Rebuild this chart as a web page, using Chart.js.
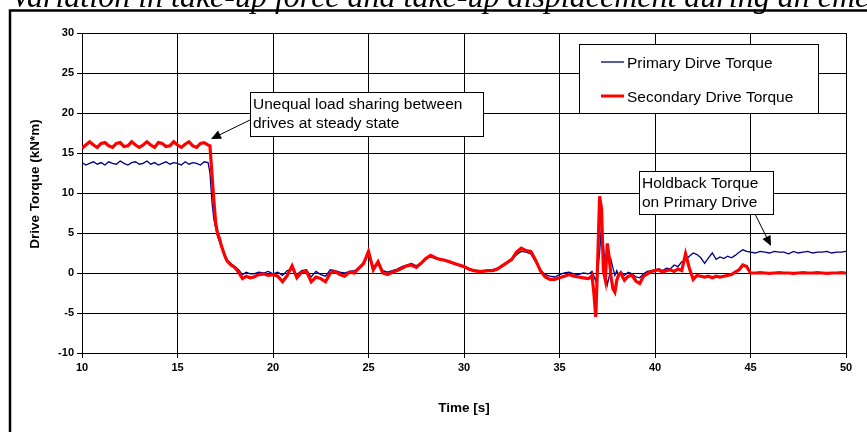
<!DOCTYPE html>
<html>
<head>
<meta charset="utf-8">
<script src="https://cdn.jsdelivr.net/npm/chart.js@4.4.0/dist/chart.umd.min.js"></script>
<style>
html, body { margin: 0; padding: 0; background: #fff; }
#wrap { position: relative; width: 867px; height: 432px; overflow: hidden; }
</style>
</head>
<body>
<div id="wrap"><canvas id="torqueChart"></canvas></div>
<script>
// time base [s]
const timeSec = [
    10.0, 10.2, 10.4, 10.6, 10.8, 11.0, 11.2, 11.4, 11.6, 11.8, 12.0, 12.2, 12.4, 12.6, 12.8, 13.0, 13.2,
    13.4, 13.6, 13.8, 14.0, 14.2, 14.4, 14.6, 14.8, 15.0, 15.2, 15.4, 15.6, 15.8, 16.0, 16.2, 16.4, 16.6,
    16.7, 16.8, 16.9, 17.0, 17.1, 17.2, 17.3, 17.4, 17.5, 17.6, 17.8, 18.0, 18.2, 18.4, 18.6, 18.8,
    19, 19.25, 19.5, 19.75, 20, 20.25, 20.5, 20.75, 21, 21.25, 21.5, 21.75, 22, 22.25, 22.5, 22.75,
    23, 23.25, 23.5, 23.75, 24, 24.25, 24.5, 24.75, 25, 25.25, 25.5, 25.75, 26, 26.25, 26.5, 26.75,
    27, 27.25, 27.5, 27.75, 28, 28.25, 28.5, 28.75, 29, 29.25, 29.5, 29.75, 30, 30.25, 30.5, 30.75,
    31, 31.25, 31.5, 31.75, 32, 32.25, 32.5, 32.75, 33, 33.25, 33.5, 33.75, 34, 34.25, 34.5, 34.75,
    35, 35.25, 35.5, 35.75, 36, 36.25, 36.5,
    36.6, 36.7, 36.8, 36.9, 37.0, 37.1, 37.2, 37.3, 37.4, 37.5, 37.6, 37.7, 37.8, 37.9, 38.0, 38.1, 38.2,
    38.4, 38.6, 38.8, 39.0, 39.2, 39.4, 39.6, 39.8, 40.0, 40.2, 40.4, 40.6, 40.8, 41.0, 41.2, 41.4, 41.6,
    41.8, 42.0, 42.2, 42.4, 42.6, 42.8, 43.0, 43.2, 43.4, 43.6, 43.8, 44.0, 44.2, 44.4, 44.6, 44.8, 45.0,
    45.25, 45.5, 45.75, 46, 46.25, 46.5, 46.75, 47, 47.25, 47.5, 47.75, 48, 48.25, 48.5, 48.75, 49,
    49.25, 49.5, 49.75, 50
];

// Primary drive torque [kN*m]
const primaryTorque = [
    13.8, 13.5, 13.7, 13.9, 13.6, 13.8, 13.5, 13.9, 13.7, 13.6, 14.0, 13.7, 13.5, 13.8, 13.9, 13.6, 13.7,
    14.0, 13.6, 13.8, 13.5, 13.7, 13.9, 13.6, 13.8, 13.7, 13.5, 13.9, 13.6, 13.8, 13.7, 13.5, 13.9, 13.8,
    12.5, 9.0, 6.8, 5.6, 4.6, 3.9, 3.2, 2.7, 1.9, 1.6, 1.2, 0.8, 0.4, -0.2, 0.1, -0.1,
    -0.1, 0.1, 0.0, 0.2, -0.1, 0.1, -0.3, 0.3, 0.5, -0.2, 0.3, 0.4, -0.5, 0.2, -0.2, -0.4,
    0.4, 0.3, 0.1, 0.0, 0.2, 0.3, 0.5, 1.4, 2.3, 0.8, 1.2, 0.3, 0.1, 0.3, 0.5, 0.8,
    1.0, 1.2, 0.9, 1.3, 1.9, 2.0, 1.8, 1.7, 1.5, 1.3, 1.1, 0.9, 0.7, 0.5, 0.4, 0.3,
    0.3, 0.4, 0.4, 0.6, 1.0, 1.3, 1.6, 2.3, 2.7, 2.6, 2.4, 1.4, 0.4, -0.2, -0.4, -0.5,
    -0.2, 0.0, 0.1, -0.1, -0.2, 0.0, -0.1,
    0.0, 0.2, -0.4, -1.0, 0.4, 2.5, 6.0, 3.5, 0.5, -1.5, -0.5, 1.6, 0.6, -0.3, 0.3, -0.4, 0.2,
    -0.3, 0.1, -0.1, -0.5, -0.6, -0.1, 0.2, 0.3, 0.4, 0.5, 0.3, 0.6, 0.5, 1.0, 0.8, 1.4, 1.6,
    2.1, 2.5, 2.3, 1.9, 1.2, 1.9, 2.5, 1.7, 2.0, 1.8, 2.1, 1.9, 2.2, 2.6, 2.9, 2.7, 2.6,
    2.5, 2.7, 2.6, 2.5, 2.7, 2.6, 2.6, 2.4, 2.7, 2.5, 2.6, 2.7, 2.5, 2.6, 2.6, 2.7,
    2.5, 2.6, 2.6, 2.7
];

// Secondary drive torque [kN*m]
const secondaryTorque = [
    15.6, 16.0, 16.4, 16.0, 15.7, 16.2, 16.3, 15.9, 15.7, 16.2, 16.3, 15.8, 15.9, 16.4, 16.0, 15.7, 16.0,
    16.4, 16.0, 15.7, 16.3, 16.2, 15.8, 15.9, 16.4, 16.0, 15.7, 16.1, 16.4, 15.9, 15.7, 16.2, 16.3, 16.0,
    15.9, 12.5, 9.2, 6.2, 4.9, 4.3, 3.4, 2.7, 2.0, 1.5, 1.0, 0.7, 0.1, -0.7, -0.4, -0.6,
    -0.5, -0.2, -0.1, -0.3, -0.2, -0.4, -1.1, -0.3, 0.9, -0.6, 0.1, 0.2, -1.1, -0.5, -0.7, -1.1,
    0.0, 0.2, -0.2, -0.4, 0.1, 0.0, 0.6, 1.2, 2.7, 0.4, 1.4, 0.0, -0.2, 0.1, 0.3, 0.6,
    0.9, 1.0, 0.7, 1.2, 1.8, 2.2, 1.9, 1.7, 1.6, 1.4, 1.2, 1.0, 0.8, 0.5, 0.3, 0.2,
    0.2, 0.3, 0.3, 0.5, 0.9, 1.3, 1.7, 2.6, 3.1, 2.8, 2.7, 1.6, 0.3, -0.5, -0.8, -0.8,
    -0.6, -0.4, -0.2, -0.4, -0.5, -0.6, -0.7,
    -0.6, -0.3, -2.5, -5.5, 1.5, 9.6, 8.0, 0.2, -0.9, 3.7, 2.0, -0.5, -2.0, -2.4, -0.9, -0.2, 0.0,
    -0.9, -0.4, -0.3, -1.0, -1.3, -0.4, -0.1, 0.2, 0.3, 0.4, 0.1, 0.3, 0.4, 0.2, 0.5, 0.3, 2.4,
    0.6, -0.8, -0.3, -0.4, -0.5, -0.4, -0.6, -0.4, -0.5, -0.4, -0.3, -0.2, 0.1, 0.4, 1.0, 0.8, 0.0,
    0.0, 0.05, 0.0, -0.05, 0.0, 0.05, 0.0, 0.0, -0.05, 0.0, 0.05, 0.0, 0.0, 0.05, 0.0, -0.05,
    0.0, 0.0, 0.05, 0.0
];

const seriesNames = ["Primary Dirve Torque", "Secondary Drive Torque"];
const seriesColors = ["#000080", "#ff0000"];
const yAxisTitle = "Drive Torque (kN*m)";
const xAxisTitle = "Time [s]";
const pageCaption = "of Variation in take-up force and take-up displacement during an emergency stop";
const notes = [
    { lines: ["Unequal load sharing between", "drives at steady state"], box: [250, 92, 233, 44], arrow: [250, 120, 211, 139] },
    { lines: ["Holdback Torque", "on Primary Drive"], box: [639, 171, 134, 43], arrow: [755, 214, 771, 246] }
];

const SANS = "'Liberation Sans', Arial, sans-serif";

function drawArrow(ctx, x1, y1, x2, y2) {
    const ang = Math.atan2(y2 - y1, x2 - x1);
    const len = 10, wid = 4.5;
    ctx.strokeStyle = "#000";
    ctx.lineWidth = 1;
    ctx.beginPath();
    ctx.moveTo(x1, y1);
    ctx.lineTo(x2 - Math.cos(ang) * len * 0.8, y2 - Math.sin(ang) * len * 0.8);
    ctx.stroke();
    ctx.fillStyle = "#000";
    ctx.beginPath();
    ctx.moveTo(x2, y2);
    ctx.lineTo(x2 - Math.cos(ang) * len + Math.sin(ang) * wid, y2 - Math.sin(ang) * len - Math.cos(ang) * wid);
    ctx.lineTo(x2 - Math.cos(ang) * len - Math.sin(ang) * wid, y2 - Math.sin(ang) * len + Math.cos(ang) * wid);
    ctx.closePath();
    ctx.fill();
}

const decor = {
    id: "decor",
    beforeDraw(chart) {
        const ctx = chart.ctx;
        ctx.save();
        ctx.fillStyle = "#fff";
        ctx.fillRect(0, 0, chart.width, chart.height);
        // caption running off the top of the page
        ctx.font = "italic 32px 'Liberation Serif', 'Times New Roman', serif";
        ctx.fillStyle = "#000";
        ctx.textBaseline = "alphabetic";
        const lead = ctx.measureText("of ").width;
        ctx.fillText(pageCaption, 11 - lead, 7);
        // outer frame
        ctx.strokeStyle = "#000";
        ctx.lineWidth = 2.5;
        ctx.beginPath();
        ctx.moveTo(10, 440);
        ctx.lineTo(10, 10.5);
        ctx.lineTo(880, 10.5);
        ctx.stroke();
        ctx.restore();
    },
    afterDraw(chart) {
        const ctx = chart.ctx;
        const area = chart.chartArea;
        ctx.save();
        // axis titles
        ctx.fillStyle = "#000";
        ctx.font = "bold 13.5px " + SANS;
        ctx.textAlign = "center";
        ctx.textBaseline = "middle";
        ctx.fillText(xAxisTitle, (area.left + area.right) / 2, 408);
        ctx.translate(35, 184);
        ctx.rotate(-Math.PI / 2);
        ctx.fillText(yAxisTitle, 0, 0);
        ctx.setTransform(1, 0, 0, 1, 0, 0);

        // legend
        ctx.fillStyle = "#fff";
        ctx.fillRect(579.5, 44.5, 239, 69);
        ctx.strokeStyle = "#000";
        ctx.lineWidth = 1;
        ctx.strokeRect(579.5, 44.5, 239, 69);
        ctx.font = "15.5px " + SANS;
        ctx.textAlign = "left";
        ctx.textBaseline = "middle";
        const rows = [63, 97];
        seriesNames.forEach((name, i) => {
            ctx.strokeStyle = seriesColors[i];
            ctx.lineWidth = i === 0 ? 1.3 : 3;
            ctx.beginPath();
            ctx.moveTo(601, rows[i] - 1);
            ctx.lineTo(624, rows[i] - 1);
            ctx.stroke();
            ctx.fillStyle = "#000";
            ctx.fillText(name, 627, rows[i] + 1);
        });

        // callouts
        notes.forEach(n => {
            const [bx, by, bw, bh] = n.box;
            ctx.fillStyle = "#fff";
            ctx.fillRect(bx + 0.5, by + 0.5, bw, bh);
            ctx.strokeStyle = "#000";
            ctx.lineWidth = 1;
            ctx.strokeRect(bx + 0.5, by + 0.5, bw, bh);
            ctx.fillStyle = "#000";
            ctx.font = "15.5px " + SANS;
            ctx.textAlign = "left";
            ctx.textBaseline = "middle";
            n.lines.forEach((ln, k) => ctx.fillText(ln, bx + 3, by + 13 + k * 19));
            drawArrow(ctx, n.arrow[0], n.arrow[1], n.arrow[2], n.arrow[3]);
        });
        ctx.restore();
    }
};

const tickFont = { family: SANS, weight: "bold", size: 11 };

new Chart(document.getElementById("torqueChart"), {
    type: "line",
    data: {
        datasets: [
            {
                label: seriesNames[0],
                data: timeSec.map((t, i) => ({ x: t, y: primaryTorque[i] })),
                borderColor: seriesColors[0],
                borderWidth: 1.3,
                pointRadius: 0,
                tension: 0,
                order: 2
            },
            {
                label: seriesNames[1],
                data: timeSec.map((t, i) => ({ x: t, y: secondaryTorque[i] })),
                borderColor: seriesColors[1],
                borderWidth: 3.2,
                pointRadius: 0,
                tension: 0,
                order: 1
            }
        ]
    },
    options: {
        responsive: true,
        maintainAspectRatio: false,
        animation: false,
        layout: { padding: { top: 33, right: 21, left: 0, bottom: 0 } },
        plugins: { legend: { display: false }, tooltip: { enabled: false } },
        scales: {
            x: {
                type: "linear",
                min: 10,
                max: 50,
                ticks: { stepSize: 5, color: "#000", font: tickFont, padding: 3, maxRotation: 0 },
                grid: { color: "#000", lineWidth: 1, tickLength: 5 },
                border: { color: "#000", width: 1 },
                afterFit(s) { s.height = 79; }
            },
            y: {
                min: -10,
                max: 30,
                ticks: { stepSize: 5, color: "#000", font: tickFont, padding: 3 },
                grid: { color: "#000", lineWidth: 1, tickLength: 5 },
                border: { color: "#000", width: 1 },
                afterFit(s) { s.width = 82; }
            }
        }
    },
    plugins: [decor]
});
</script>
</body>
</html>
